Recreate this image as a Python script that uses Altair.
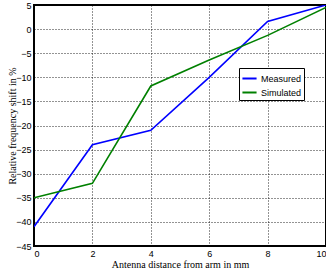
import altair as alt
import pandas as pd

distance = [0, 2, 4, 6, 8, 10]
measured = [-41, -24, -21, -10, 1.6, 5]
simulated = [-35, -32, -11.8, -6.4, -1.3, 4.5]

rows = []
for d, m in zip(distance, measured):
    rows.append({"x": d, "y": m, "series": "Measured"})
for d, s in zip(distance, simulated):
    rows.append({"x": d, "y": s, "series": "Simulated"})
df = pd.DataFrame(rows)

chart = alt.Chart(df).mark_line(strokeWidth=1.6, clip=True).encode(
    x=alt.X("x:Q", scale=alt.Scale(domain=[0, 10], nice=False),
            axis=alt.Axis(title="Antenna distance from arm in mm", values=[0, 2, 4, 6, 8, 10],
                          titleFont="Liberation Serif", titleFontWeight="normal", titleFontSize=10,
                          titlePadding=1)),
    y=alt.Y("y:Q", scale=alt.Scale(domain=[-45, 5], nice=False),
            axis=alt.Axis(title="Relative frequency shift in %", values=list(range(-45, 6, 5)),
                          titleFont="Liberation Serif", titleFontWeight="normal", titleFontSize=10,
                          titlePadding=-2)),
    color=alt.Color("series:N", sort=["Measured", "Simulated"],
                    scale=alt.Scale(domain=["Measured", "Simulated"], range=["#0000FF", "#008000"]),
                    legend=alt.Legend(title=None, orient="none", legendX=205, legendY=63,
                                      fillColor="white", strokeColor="black", padding=2,
                                      symbolType="stroke", symbolSize=200, symbolStrokeWidth=2,
                                      labelFont="Liberation Sans", labelFontSize=9, rowPadding=0,
                                      labelOffset=3, offset=0)),
).properties(
    width=292, height=241,
    autosize=alt.AutoSizeParams(type="none"),
    padding={"left": 34, "top": 5, "right": 0, "bottom": 24},
).configure(
    background="white"
).configure_view(
    stroke="black", strokeWidth=2
).configure_axis(
    labelFont="Liberation Sans", labelFontSize=9, labelColor="black",
    domain=False, ticks=False, tickSize=0, labelPadding=3,
    grid=True, gridColor="black", gridDash=[1, 2], gridOpacity=0.85, gridWidth=1,
    titleColor="black"
)

chart.save("out.html", embed_options={"renderer": "svg", "actions": False})
